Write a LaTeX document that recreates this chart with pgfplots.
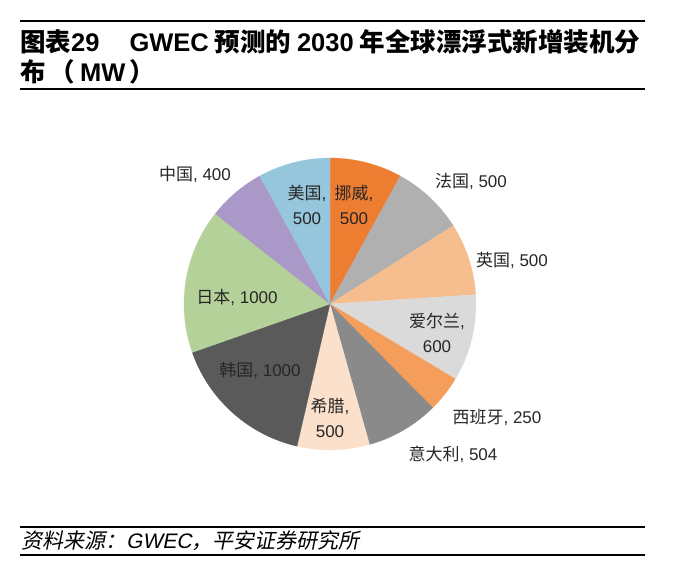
\documentclass[border=0pt]{standalone}
\usepackage{pgfplots}
\pgfplotsset{compat=1.18}
\usepackage{pgfplotstable}
\usepackage{fontspec}
\setmainfont{Noto Sans CJK SC}
\newfontfamily\cjkit{Noto Sans CJK SC}[FakeSlant=0.2]
\newfontfamily\lat{Liberation Sans}
\newfontfamily\latit{Liberation Sans}[FakeSlant=0.2]
\newcommand\Lt[1]{{\lat #1}}
\definecolor{cNO}{HTML}{ED7D31}
\definecolor{cFR}{HTML}{B0B0B0}
\definecolor{cUK}{HTML}{F6BD8E}
\definecolor{cIE}{HTML}{DADADA}
\definecolor{cES}{HTML}{F59D5B}
\definecolor{cIT}{HTML}{8A8A8A}
\definecolor{cGR}{HTML}{FBE1CC}
\definecolor{cKR}{HTML}{5A5A5A}
\definecolor{cJP}{HTML}{B5D19A}
\definecolor{cCN}{HTML}{A998C8}
\definecolor{cUS}{HTML}{95C6DC}
\pgfplotstableread{
country value color
挪威 500 cNO
法国 500 cFR
英国 500 cUK
爱尔兰 600 cIE
西班牙 250 cES
意大利 504 cIT
希腊 500 cGR
韩国 1000 cKR
日本 1000 cJP
中国 400 cCN
美国 500 cUS
}\piedata
\def\total{6254}
\gdef\cum{0}
\newcommand\slice[2]{%
  \pgfmathsetmacro\angA{90-\cum/\total*360}%
  \pgfmathsetmacro\newcum{\cum+#1}%
  \global\let\cum\newcum
  \pgfmathsetmacro\angB{90-\cum/\total*360}%
  \edef\doslice{\noexpand\addplot[draw=#2, line width=0.2pt, fill=#2, domain=\angB:\angA, samples=80] ({cos(x)},{sin(x)}) -- (axis cs:0,0) -- cycle;}%
  \doslice
}
\begin{document}
\begin{tikzpicture}[x=1pt,y=1pt]
\path[use as bounding box] (0,0) rectangle (683,573);
% rules
\draw[line width=2.5pt] (20,552) -- (645,552);
\draw[line width=2.5pt] (20,484) -- (645,484);
\draw[line width=2.5pt] (20,46) -- (645,46);
\draw[line width=2.5pt] (20,18) -- (645,18);
% title
\node[anchor=west, inner sep=0pt, font=\fontsize{25.5}{28}\selectfont\bfseries] at (20,531) {图表\Lt{29}\hspace{30pt}\Lt{GWEC} 预测的 \Lt{2030} 年全球漂浮式新增装机分};
\node[anchor=west, inner sep=0pt, font=\fontsize{25.5}{28}\selectfont\bfseries] at (20,501) {布\hspace{4pt}（\hspace{5pt}\Lt{MW}\hspace{4pt}）};
% source
\node[anchor=west, inner sep=0pt, font=\fontsize{21}{23}\selectfont\cjkit] at (21,32) {资料来源：{\latit GWEC}，平安证券研究所};
\begin{axis}[at={(330pt,269pt)}, anchor=center, scale only axis, width=292pt, height=292pt,
  xmin=-1, xmax=1, ymin=-1, ymax=1, hide axis, clip=false]
\pgfplotstablegetrowsof{\piedata}
\pgfmathtruncatemacro\nrows{\pgfplotsretval-1}
\pgfplotsforeachungrouped \i in {0,...,\nrows}{%
  \pgfplotstablegetelem{\i}{value}\of\piedata \let\v\pgfplotsretval
  \pgfplotstablegetelem{\i}{color}\of\piedata \let\c\pgfplotsretval
  \edef\tmp{\noexpand\slice{\v}{\c}}\tmp
}
\end{axis}
% labels
\begin{scope}[every node/.style={font=\fontsize{17}{25}\selectfont, align=center, inner sep=0pt, text=black!85}]
\node at (195,399) {中国\Lt{, 400}};
\node at (307,368) {美国\Lt{,}\\\Lt{500}};
\node at (354,368) {挪威\Lt{,}\\\Lt{500}};
\node at (471,392) {法国\Lt{, 500}};
\node at (512,313) {英国\Lt{, 500}};
\node at (437,240) {爱尔兰\Lt{,}\\\Lt{600}};
\node at (497,156) {西班牙\Lt{, 250}};
\node at (453,119) {意大利\Lt{, 504}};
\node at (330,155) {希腊\Lt{,}\\\Lt{500}};
\node at (260,203) {韩国\Lt{, 1000}};
\node at (237,276) {日本\Lt{, 1000}};
\end{scope}
\end{tikzpicture}
\end{document}
